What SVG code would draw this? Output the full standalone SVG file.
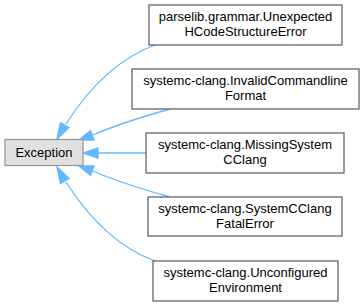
<svg xmlns="http://www.w3.org/2000/svg" width="364" height="307" viewBox="0 0 364 307">
  <style>
    .node rect { fill: #ffffff; stroke: #666666; stroke-width: 1.3; }
    .node.base rect { fill: #e0e0e0; stroke: #999999; }
    .node text { font-family: "Liberation Sans", Arial, Helvetica, sans-serif; font-size: 13px; fill: #000000; text-anchor: middle; }
    .edges path { fill: none; stroke: #63b8ff; stroke-width: 1.3; }
    .edges polygon { fill: #63b8ff; stroke: #63b8ff; stroke-width: 1.3; stroke-linejoin: miter; }
  </style>
  <rect width="364" height="307" fill="#ffffff"/>

  <!-- inheritance arrows -->
  <g id="edges" class="edges">
    <path d="M155,45 C125,56 94,80 66,124"/>
    <polygon points="57,139 60.5,122.5 69,127.5"/>
    <path d="M170,109 C145,116 118,124 93,135"/>
    <polygon points="79,140 90.5,130.5 94,140"/>
    <path d="M146,153 L98,153"/>
    <polygon points="83,153 98,148 98,158"/>
    <path d="M170,197 C145,190 118,182 93,171"/>
    <polygon points="79,166 90.5,175.5 94,166"/>
    <path d="M155,261 C125,250 94,226 66,182"/>
    <polygon points="57,167 60.5,183.5 69,178.5"/>
  </g>

  <g id="node-exception" class="node base">
    <rect x="5" y="139.5" width="78" height="26"/>
    <text x="44" y="157">Exception</text>
  </g>

  <g id="node-unexpected-hcode" class="node">
    <rect x="149" y="5" width="193" height="40"/>
    <text x="245.5" y="21">parselib.grammar.Unexpected</text>
    <text x="245.5" y="36">HCodeStructureError</text>
  </g>

  <g id="node-invalid-cmdline" class="node">
    <rect x="132" y="69" width="227" height="40"/>
    <text x="245.5" y="85">systemc-clang.InvalidCommandline</text>
    <text x="245.5" y="100">Format</text>
  </g>

  <g id="node-missing-systemc" class="node">
    <rect x="146" y="133" width="198" height="40"/>
    <text x="245" y="149">systemc-clang.MissingSystem</text>
    <text x="245" y="164">CClang</text>
  </g>

  <g id="node-fatal-error" class="node">
    <rect x="148" y="197" width="194" height="39"/>
    <text x="245" y="213">systemc-clang.SystemCClang</text>
    <text x="245" y="228">FatalError</text>
  </g>

  <g id="node-unconfigured-env" class="node">
    <rect x="153" y="261" width="185" height="40"/>
    <text x="245.5" y="277">systemc-clang.Unconfigured</text>
    <text x="245.5" y="292">Environment</text>
  </g>
</svg>
